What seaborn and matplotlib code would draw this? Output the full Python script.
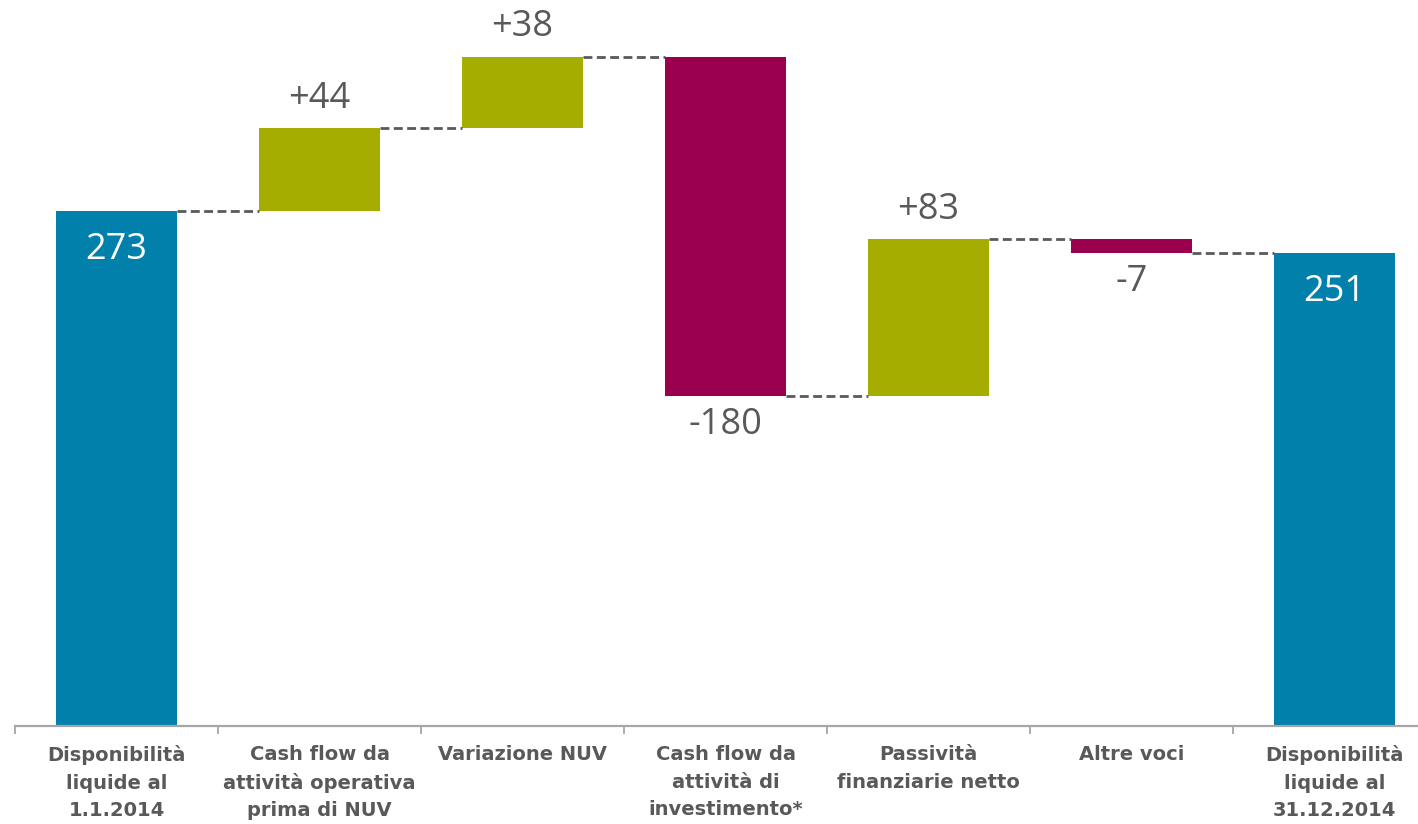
import numpy as np
import pandas as pd
import matplotlib
matplotlib.use("Agg")
import matplotlib.pyplot as plt
from matplotlib.ticker import FixedLocator
import seaborn as sns

# data
labels = [
    "Disponibilità\nliquide al\n1.1.2014",
    "Cash flow da\nattività operativa\nprima di NUV",
    "Variazione NUV",
    "Cash flow da\nattività di\ninvestimento*",
    "Passività\nfinanziarie netto",
    "Altre voci",
    "Disponibilità\nliquide al\n31.12.2014",
]
start_value = 273
deltas = [44, 38, -180, 83, -7]
end_value = 251

colors = {"total": "#0080AB", "up": "#A5AE00", "down": "#9B004F"}
text_grey = "#595959"

# build waterfall table
rows = [dict(label=labels[0], kind="total", bottom=0, height=start_value,
             level=start_value, value=start_value)]
level = start_value
for lab, d in zip(labels[1:-1], deltas):
    new = level + d
    rows.append(dict(label=lab, kind="up" if d > 0 else "down",
                     bottom=min(level, new), height=abs(d), level=new, value=d))
    level = new
rows.append(dict(label=labels[-1], kind="total", bottom=0, height=end_value,
                 level=end_value, value=end_value))
df = pd.DataFrame(rows)

sns.set_style("white")
plt.rcParams["font.family"] = ["DejaVu Sans"]

fig = plt.figure(figsize=(14.18, 8.24), dpi=100)
ax = fig.add_axes([15 / 1418, 98 / 824, 1 - 15 / 1418, 1 - 98 / 824])

for kind, col in colors.items():
    sub = df[df["kind"] == kind]
    sns.barplot(data=sub, x="label", y="height", order=labels, bottom=sub["bottom"].values,
                color=col, saturation=1, width=0.6, errorbar=None, ax=ax, linewidth=0)

# dashed connectors
for i in range(len(df) - 1):
    ax.plot([i + 0.3, i + 0.7], [df["level"][i]] * 2, color=text_grey,
            linestyle=(0, (3.2, 1.6)), linewidth=2)

# value labels
lab_kw = dict(textcoords="offset points", ha="center", va="center", fontsize=26, family="Open Sans")
for i, r in df.iterrows():
    if r["kind"] == "total":
        ax.annotate(f"{r['value']}", (i, r["height"]), xytext=(0, -28), color="white", **lab_kw)
    elif r["kind"] == "up":
        ax.annotate(f"+{r['value']}", (i, r["bottom"] + r["height"]), xytext=(0, 21),
                    color=text_grey, **lab_kw)
    else:
        ax.annotate(f"{r['value']}", (i, r["bottom"]), xytext=(0, -21),
                    color=text_grey, **lab_kw)

ax.set_xlim(-0.5, 6.411)
ax.set_ylim(0, 385)
ax.set_xlabel("")
ax.set_ylabel("")
ax.set_yticks([])
for s in ["top", "right", "left"]:
    ax.spines[s].set_visible(False)
ax.spines["bottom"].set_color("#A6A6A6")
ax.spines["bottom"].set_linewidth(1.6)

ax.xaxis.set_minor_locator(FixedLocator(np.arange(-0.5, 6.0, 1.0)))
ax.tick_params(axis="x", which="minor", length=6, width=1.3, color="#A6A6A6", bottom=True)
ax.tick_params(axis="x", which="major", length=0, pad=14, bottom=True)
for t in ax.get_xticklabels():
    t.set_fontsize(14)
    t.set_fontweight("bold")
    t.set_color(text_grey)
    t.set_linespacing(1.55)

fig.savefig("out.png", dpi=100)
